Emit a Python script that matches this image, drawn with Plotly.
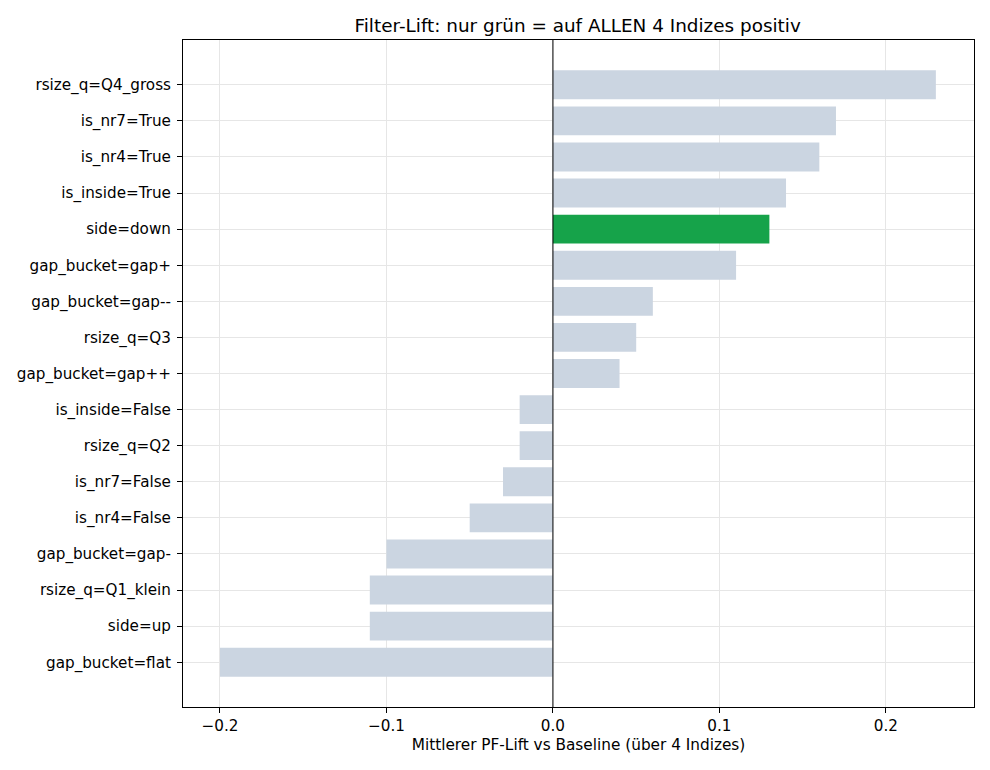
import plotly.graph_objects as go

categories = ["rsize_q=Q4_gross", "is_nr7=True", "is_nr4=True", "is_inside=True", "side=down",
              "gap_bucket=gap+", "gap_bucket=gap--", "rsize_q=Q3", "gap_bucket=gap++",
              "is_inside=False", "rsize_q=Q2", "is_nr7=False", "is_nr4=False",
              "gap_bucket=gap-", "rsize_q=Q1_klein", "side=up", "gap_bucket=flat"]
values = [0.23, 0.17, 0.16, 0.14, 0.13, 0.11, 0.06, 0.05, 0.04,
          -0.02, -0.02, -0.03, -0.05, -0.10, -0.11, -0.11, -0.20]
positive_all = [c == "side=down" for c in categories]
x_ticks = [-0.2, -0.1, 0.0, 0.1, 0.2]
x_tick_labels = ["\u22120.2", "\u22120.1", "0.0", "0.1", "0.2"]

GRAY = "#cbd5e1"
GREEN = "#16a34a"
colors = [GREEN if p else GRAY for p in positive_all]
ypos = list(range(len(categories)))

fig = go.Figure(go.Bar(
    x=values, y=ypos, orientation="h", marker=dict(color=colors, line=dict(width=0)),
    width=0.8, hoverinfo="x+text", text=categories, textposition="none",
))

font = "DejaVu Sans"
TS = 15.2
fig.update_layout(
    width=990, height=770,
    margin=dict(l=183, r=16, t=40, b=63),
    paper_bgcolor="white", plot_bgcolor="white",
    showlegend=False,
    font=dict(family=font, size=TS, color="black"),
    title=dict(text="Filter-Lift: nur grün = auf ALLEN 4 Indizes positiv", x=0.5835, xanchor="center",
               y=1 - 26 / 770, yanchor="middle", font=dict(size=18.4, family=font, color="black")),
    xaxis=dict(range=[-0.2222, 0.2529], tickvals=x_ticks, ticktext=x_tick_labels,
               showgrid=True, gridcolor="#e6e6e6", gridwidth=1, zeroline=False,
               showline=True, linecolor="black", linewidth=1, mirror=True,
               ticks="outside", ticklen=5, tickcolor="black",
               tickfont=dict(size=TS, family=font),
               title=dict(text="Mittlerer PF-Lift vs Baseline (über 4 Indizes)", standoff=5,
                          font=dict(size=15.3, family=font))),
    yaxis=dict(range=[17.24, -1.24], tickvals=ypos, ticktext=categories,
               showgrid=True, gridcolor="#e6e6e6", gridwidth=1, zeroline=False,
               showline=True, linecolor="black", linewidth=1, mirror=True,
               ticks="outside", ticklen=5, tickcolor="black", ticklabelstandoff=3,
               tickfont=dict(size=TS, family=font)),
    shapes=[dict(type="line", xref="x", yref="paper", x0=0, x1=0, y0=0, y1=1, layer="above",
                 line=dict(color="black", width=1))],
)

fig.write_html("out.html")
